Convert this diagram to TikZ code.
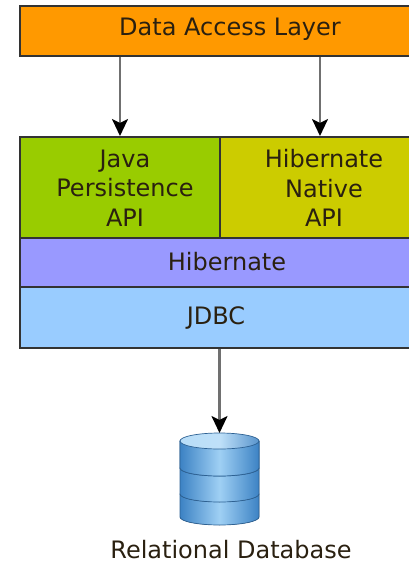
\documentclass[tikz,border=0pt]{standalone}
\usepackage{fontspec}
\setmainfont{DejaVu Sans}
\usetikzlibrary{arrows.meta}
\definecolor{dalorange}{HTML}{FF9900}
\definecolor{jpagreen}{HTML}{99CC00}
\definecolor{hnayellow}{HTML}{CCCC00}
\definecolor{hibpurple}{HTML}{9999FF}
\definecolor{jdbcblue}{HTML}{99CCFF}
\definecolor{boxline}{HTML}{333333}
\definecolor{txtdark}{HTML}{2A2010}
\definecolor{shaftgray}{HTML}{707070}
\definecolor{dbdark}{HTML}{3C82C4}
\definecolor{dblight}{HTML}{9FD0F4}
\definecolor{dbtop}{HTML}{B8DDF8}
\tikzset{
  layerbox/.style={draw=boxline, line width=2pt, inner sep=0pt, rectangle, anchor=north west},
  layertext/.style={font=\fontsize{24}{29.5}\selectfont, text=txtdark, align=center, inner sep=0pt},
  flowarrow/.style={draw=shaftgray, line width=2.6pt, -{Stealth[length=17pt,width=16pt,inset=4pt,fill=black,color=black]}},
  dbseg/.style={draw=dbdark!75!black, line width=0.7pt, left color=dbdark, right color=dbdark, middle color=dblight},
}
\begin{document}
\begin{tikzpicture}[x=1pt,y=-1pt]
\useasboundingbox (0,0) rectangle (409,566);
% layers
\node[layerbox, fill=dalorange, minimum width=425pt, minimum height=50pt] (dal) at (19,5) {};
\node[layerbox, fill=jpagreen, minimum width=200pt, minimum height=101pt] (jpa) at (19,136) {};
\node[layerbox, fill=hnayellow, minimum width=206pt, minimum height=101pt] (hna) at (219,136) {};
\node[layerbox, fill=hibpurple, minimum width=406pt, minimum height=49pt] (hib) at (19,237) {};
\node[layerbox, fill=jdbcblue, minimum width=406pt, minimum height=61pt] (jdbc) at (19,286) {};
% texts
\node[layertext] (daltext) at (230,29) {Data Access Layer};
\node[layertext] (jpatext) at (125,188) {Java\\Persistence\\API};
\node[layertext] (hnatext) at (324,188) {Hibernate\\Native\\API};
\node[layertext] (hibtext) at (227,262) {Hibernate};
\node[layertext] (jdbctext) at (216,318) {JDBC};
% database icon
\coordinate (dbtopc) at (219.5,441);
\fill[dbseg] (180,494) -- (180,517) arc[start angle=180,end angle=0,x radius=39.5,y radius=8] -- (259,494) -- cycle;
\fill[dbseg] (180,468) -- (180,494) arc[start angle=180,end angle=0,x radius=39.5,y radius=8] -- (259,468) -- cycle;
\fill[dbseg] (180,441) -- (180,468) arc[start angle=180,end angle=0,x radius=39.5,y radius=8] -- (259,441) -- cycle;
\draw[dbseg] (180,441) -- (180,468) arc[start angle=180,end angle=0,x radius=39.5,y radius=8] -- (259,441);
\draw[dbdark!75!black, line width=0.7pt, left color=dbtop, right color=dbdark!85, middle color=dbtop!90] (dbtopc) ellipse[x radius=39.5, y radius=8];
\node[inner sep=0pt, minimum width=80pt, minimum height=92pt, anchor=north] (db) at (219.5,433) {};
\node[layertext] (dbtext) at (231,550) {Relational Database};
% arrows
\draw[flowarrow] (dal.south -| 120,0) -- (jpa.north -| 120,0);
\draw[flowarrow] (dal.south -| 320,0) -- (hna.north -| 320,0);
\draw[flowarrow] (jdbc.south -| db.north) -- (db.north);
\end{tikzpicture}
\end{document}
